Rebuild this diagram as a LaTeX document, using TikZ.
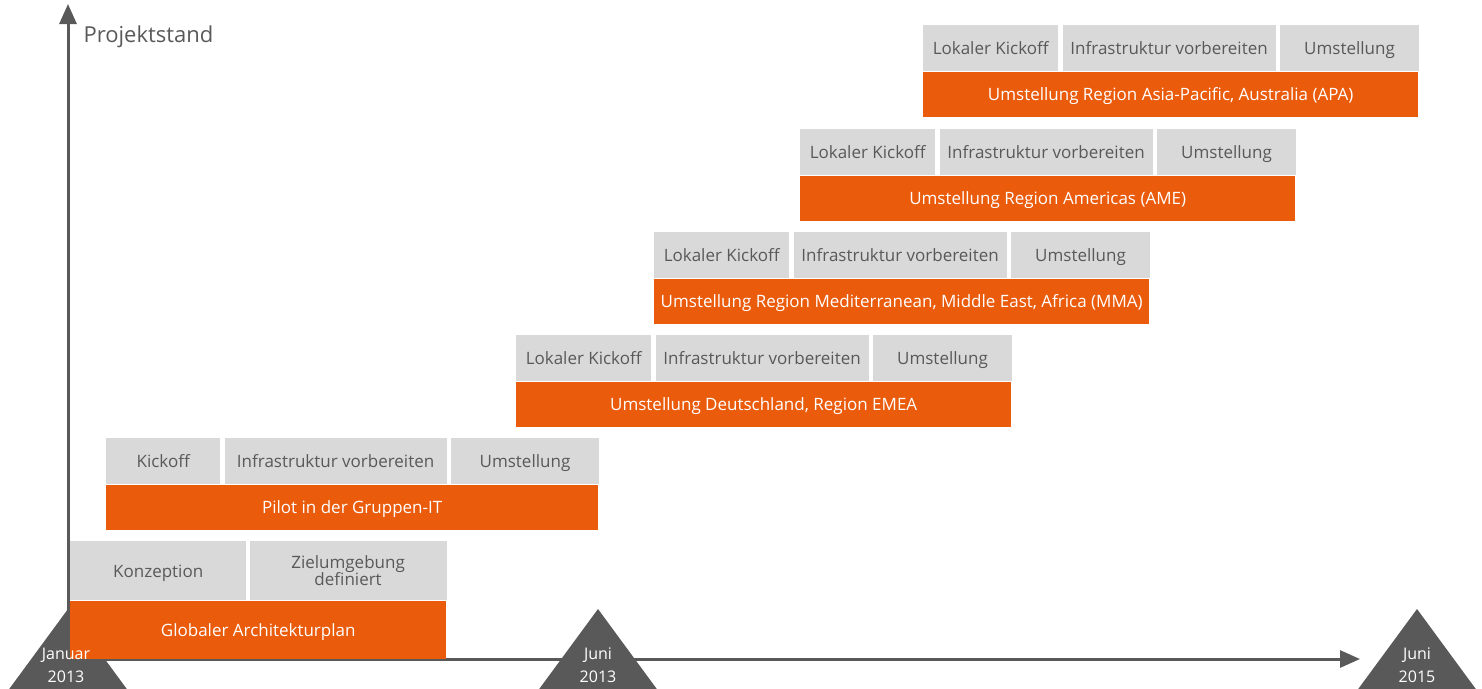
\documentclass[tikz,border=0pt]{standalone}
\usepackage{fontspec}
\setmainfont{Open Sans}
\usetikzlibrary{positioning,arrows.meta}
\definecolor{axisgray}{HTML}{595959}
\definecolor{cellgray}{HTML}{D9D9D9}
\definecolor{barorange}{HTML}{EA5B0C}

\begin{document}
\begin{tikzpicture}[
    x=1pt, y=-1pt,
    node distance=4pt,
    font=\fontsize{17}{20}\selectfont,
    task/.style={fill=cellgray, text=axisgray, anchor=north west, inner sep=0pt, minimum height=46pt, text height=14pt, text depth=1pt},
    phase/.style={fill=barorange, text=white, anchor=north west, inner sep=0pt, minimum height=45pt, minimum width=495pt, text height=14pt, text depth=1pt},
    axis/.style={draw=axisgray, line width=3pt, -{Triangle[length=20pt,width=17pt]}},
    datelabel/.style={text=white, align=center, font=\fontsize{16}{23}\selectfont}
]
    \useasboundingbox (0,0) rectangle (1482,688);
    \clip (0,0) rectangle (1482,688);

    % Milestones
    \foreach \mx in {68, 598, 1417}
        \fill[axisgray] (\mx,609) -- (\mx+61,692) -- (\mx-61,692) -- cycle;

    % Axes
    \coordinate (origin) at (68,659);
    \coordinate (ytip) at (68,4);
    \coordinate (xtip) at (1360,659);
    \draw[axis] (origin) -- (ytip);
    \draw[axis] (origin) -- (xtip);
    \node[text=axisgray, anchor=west, font=\fontsize{22}{26}\selectfont] (ylabel) at (80,37) {Projektstand};

    % Globaler Architekturplan
    \node[task, minimum width=176pt, minimum height=59pt] (konz) at (70,541) {Konzeption};
    \node[task, minimum width=197pt, minimum height=59pt, align=center, text height=, text depth=, right=3pt of konz.north east, anchor=north west] (ziel) {Zielumgebung\\[-3pt]definiert};
    \node[phase, minimum width=376pt, minimum height=58pt] (global) at (konz.south west) {Globaler Architekturplan};

    % Pilot
    \node[task, minimum width=114pt] (pkick) at (106,438) {Kickoff};
    \node[task, minimum width=222pt, right=of pkick.north east, anchor=north west] (pinfra) {Infrastruktur vorbereiten};
    \node[task, minimum width=148pt, right=of pinfra.north east, anchor=north west] (pumst) {Umstellung};
    \node[phase, minimum width=492pt] (pilot) at (pkick.south west) {Pilot in der Gruppen-IT};

    % Regionen
    \foreach \rx/\ry/\rname/\rtext in {
        516/335/emea/{Umstellung Deutschland, Region EMEA},
        654/232/mma/{Umstellung Region Mediterranean, Middle East, Africa (MMA)},
        800/129/ame/{Umstellung Region Americas (AME)},
        923/25/apa/{Umstellung Region Asia-Pacific, Australia (APA)}}
    {
        \node[task, minimum width=135pt] (\rname-kick) at (\rx,\ry) {Lokaler Kickoff};
        \node[task, minimum width=213pt, right=of \rname-kick.north east, anchor=north west] (\rname-infra) {Infrastruktur vorbereiten};
        \node[task, minimum width=139pt, right=of \rname-infra.north east, anchor=north west] (\rname-umst) {Umstellung};
        \node[phase] (\rname) at (\rname-kick.south west) {\rtext};
    }

    % Date labels
    \node[datelabel] (jan13) at (66,665) {Januar\\2013};
    \node[datelabel] (jun13) at (598,665) {Juni\\2013};
    \node[datelabel] (jun15) at (1417,665) {Juni\\2015};
\end{tikzpicture}
\end{document}
